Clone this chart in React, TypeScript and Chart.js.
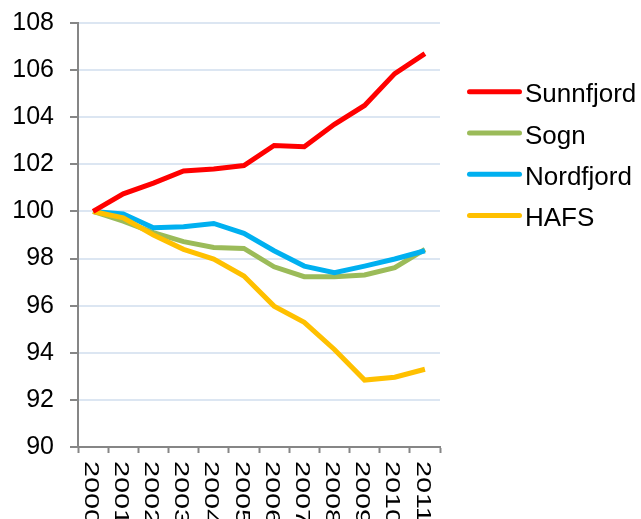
import React, { useEffect, useRef } from "react";
import { Chart, registerables } from "chart.js";

Chart.register(...registerables);

const years = ["2000", "2001", "2002", "2003", "2004", "2005", "2006", "2007", "2008", "2009", "2010", "2011"];
const sunnfjord = [100, 100.75, 101.2, 101.72, 101.8, 101.95, 102.8, 102.75, 103.7, 104.5, 105.85, 106.7];
const sogn = [100, 99.59, 99.1, 98.72, 98.47, 98.43, 97.65, 97.23, 97.23, 97.3, 97.61, 98.39];
const nordfjord = [100, 99.89, 99.31, 99.35, 99.49, 99.07, 98.33, 97.68, 97.4, 97.68, 97.98, 98.33];
const hafs = [100, 99.73, 99.0, 98.39, 97.98, 97.26, 95.98, 95.29, 94.14, 92.84, 92.96, 93.3];
const yTicks = [90, 92, 94, 96, 98, 100, 102, 104, 106, 108];

const FONT = "'Liberation Sans', Arial, sans-serif";

const xLabelPlugin = {
  id: "xLabels",
  afterDraw(chart: any) {
    const ctx = chart.ctx;
    const xs = chart.scales.x;
    ctx.save();
    ctx.fillStyle = "#000";
    ctx.font = `21px ${FONT}`;
    ctx.textAlign = "left";
    ctx.textBaseline = "middle";
    chart.data.labels.forEach((lab: string, i: number) => {
      const x = xs.getPixelForValue(i) - 2.5;
      const y = chart.chartArea.bottom + 14;
      ctx.save();
      ctx.translate(x, y);
      ctx.rotate(Math.PI / 2);
      ctx.scale(1.37, 1);
      ctx.fillText(lab, 0, 0);
      ctx.restore();
    });
    ctx.restore();
  },
};

const legendPlugin = {
  id: "customLegend",
  afterDraw(chart: any) {
    const ctx = chart.ctx;
    ctx.save();
    ctx.font = `26px ${FONT}`;
    ctx.textBaseline = "alphabetic";
    ctx.textAlign = "left";
    const x0 = chart.chartArea.right + 29.5;
    const y0 = 91.7;
    const gap = 41.3;
    chart.data.datasets.forEach((ds: any, i: number) => {
      const y = y0 + i * gap;
      ctx.strokeStyle = ds.borderColor;
      ctx.lineWidth = 5;
      ctx.lineCap = "round";
      ctx.beginPath();
      ctx.moveTo(x0, y);
      ctx.lineTo(x0 + 50, y);
      ctx.stroke();
      ctx.fillStyle = "#000";
      ctx.fillText(ds.label, x0 + 55.5, y + 10.5);
    });
    ctx.restore();
  },
};

export default function App() {
  const ref = useRef<HTMLCanvasElement>(null);
  useEffect(() => {
    if (!ref.current) return;
    const mk = (label: string, data: number[], color: string, order: number) => ({
      label,
      data,
      borderColor: color,
      backgroundColor: color,
      borderWidth: 5,
      pointRadius: 0,
      tension: 0,
      fill: false,
      order,
    });
    const chart = new Chart(ref.current, {
      type: "line",
      data: {
        labels: years,
        datasets: [
          mk("Sunnfjord", sunnfjord, "#ff0000", 0),
          mk("Sogn", sogn, "#9bbb59", 3),
          mk("Nordfjord", nordfjord, "#00b0f0", 2),
          mk("HAFS", hafs, "#ffc000", 1),
        ],
      },
      options: {
        animation: false,
        responsive: false,
        maintainAspectRatio: false,
        layout: { padding: { left: 0, right: 201, top: 23, bottom: 0 } },
        plugins: { legend: { display: false }, tooltip: { enabled: false } },
        scales: {
          x: {
            type: "category",
            offset: true,
            grid: {
              display: true,
              drawOnChartArea: false,
              drawTicks: true,
              tickLength: 6,
              tickColor: "#868686",
              tickWidth: 2,
              offset: true,
            },
            border: { display: true, color: "#868686", width: 2 },
            ticks: { display: false },
            afterFit(scale: any) {
              scale.height = 72;
              scale.paddingLeft = 0;
              scale.paddingRight = 0;
            },
          },
          y: {
            min: 90,
            max: 108,
            afterBuildTicks(scale: any) {
              scale.ticks = yTicks.map((v) => ({ value: v }));
            },
            grid: {
              color: "#dce6f2",
              lineWidth: 2,
              drawTicks: true,
              tickLength: 8,
              tickColor: "#868686",
              tickWidth: 2,
            },
            border: { display: true, color: "#868686", width: 2 },
            ticks: {
              color: "#000",
              font: { family: FONT, size: 25 },
              padding: 16,
            },
            afterFit(scale: any) {
              scale.width = 78;
              scale.paddingTop = 0;
              scale.paddingBottom = 0;
            },
          },
        },
      },
      plugins: [xLabelPlugin, legendPlugin],
    });
    return () => chart.destroy();
  }, []);
  return (
    <div style={{ position: "absolute", left: 0, top: 0, width: 641, height: 519, background: "#fff" }}>
      <canvas ref={ref} width={641} height={519} style={{ width: 641, height: 519 }} />
    </div>
  );
}
